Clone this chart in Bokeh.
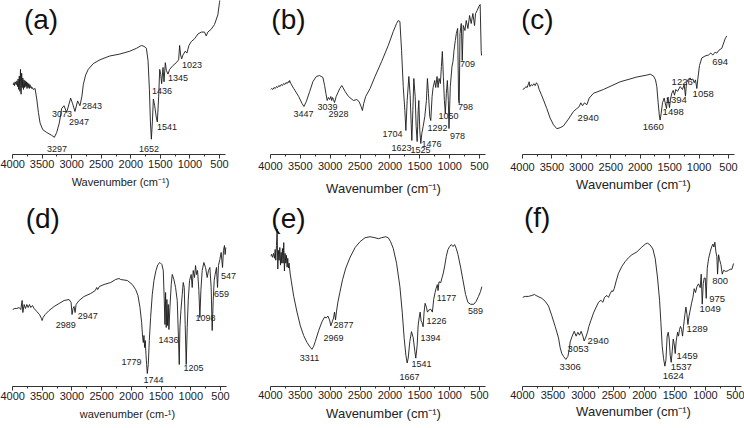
from bokeh.plotting import figure
from bokeh.layouts import row, column
from bokeh.models import Range1d, FixedTicker, Label
from bokeh.embed import file_html
from bokeh.resources import INLINE

FONT = "Liberation Sans"

# ---------------- data (wavenumber cm-1, transmittance a.u.) ----------------
wn_a = [4000, 3985, 3975, 3965, 3955, 3945, 3935, 3925, 3915, 3905,
        3895, 3885, 3875, 3865, 3855, 3845, 3835, 3825, 3815, 3805,
        3795, 3785, 3775, 3765, 3755, 3745, 3735, 3725, 3715, 3705,
        3695, 3685, 3675, 3665, 3650, 3618, 3590, 3562, 3534, 3489,
        3421, 3337, 3292, 3253, 3208, 3169, 3129, 3084, 3017, 2983,
        2944, 2899, 2860, 2826, 2803, 2764, 2719, 2635, 2522, 2354,
        2185, 2017, 1904, 1820, 1775, 1736, 1708, 1685, 1668, 1652,
        1635, 1618, 1596, 1567, 1551, 1528, 1511, 1494, 1478, 1455,
        1438, 1416, 1399, 1371, 1343, 1287, 1230, 1191, 1174, 1157,
        1140, 1118, 1079, 1051, 1017, 978, 921, 865, 809, 753,
        725, 697, 640, 584, 528, 500, 472]
t_a = [74, 73, 75, 72, 76, 74, 73, 77, 71, 79,
       68, 82, 66, 89, 63, 85, 70, 80, 68, 78,
       70, 77, 71, 76, 69, 75, 70, 74, 69, 73,
       70, 71, 69, 70, 68, 69, 58, 44, 33, 26,
       23, 20, 18, 23, 33, 48, 51, 44, 59, 53,
       45, 56, 51, 61, 73, 83, 89, 95, 99, 103,
       105, 108, 111, 114, 113, 111, 98, 68, 34, 16,
       34, 58, 51, 38, 34, 61, 89, 84, 74, 91,
       76, 96, 88, 84, 89, 93, 96, 99, 114, 104,
       100, 104, 108, 106, 114, 118, 121, 126, 128, 128,
       124, 128, 131, 136, 146, 159, 171]

wn_b = [4000, 3980, 3960, 3940, 3920, 3900, 3880, 3860, 3840, 3820,
        3800, 3780, 3760, 3740, 3720, 3700, 3690, 3680, 3660, 3611,
        3528, 3472, 3440, 3400, 3344, 3289, 3233, 3178, 3122, 3094,
        3072, 3050, 3030, 3010, 2990, 2975, 2960, 2945, 2928, 2900,
        2870, 2840, 2806, 2750, 2694, 2611, 2556, 2517, 2483, 2461,
        2439, 2406, 2333, 2250, 2139, 2028, 1944, 1889, 1861, 1833,
        1805, 1777, 1750, 1733, 1711, 1683, 1661, 1644, 1633, 1616,
        1600, 1577, 1561, 1544, 1527, 1516, 1500, 1483, 1466, 1444,
        1416, 1389, 1372, 1355, 1333, 1316, 1294, 1277, 1250, 1233,
        1211, 1194, 1177, 1155, 1138, 1122, 1105, 1088, 1072, 1055,
        1038, 1022, 1011, 989, 961, 944, 927, 905, 888, 866,
        850, 839, 827, 805, 789, 772, 744, 722, 694, 666,
        639, 611, 583, 566, 539, 511, 489, 472, 466]
t_b = [65, 66, 65, 67, 66, 68, 67, 69, 68, 70,
       69, 71, 70, 72, 71, 73, 72, 74, 71, 66,
       58, 51, 48, 53, 63, 73, 78, 79, 77, 69,
       61, 54, 57, 55, 58, 54, 57, 55, 52, 58,
       62, 66, 69, 63, 58, 54, 55, 53, 48, 44,
       51, 58, 66, 78, 93, 109, 123, 131, 134, 133,
       104, 68, 44, 24, 54, 78, 59, 31, 14, 44,
       76, 58, 28, 13, 44, 54, 24, 11, 21, 28,
       38, 54, 76, 61, 38, 34, 58, 67, 74, 67,
       78, 67, 76, 71, 88, 103, 78, 54, 41, 61,
       74, 54, 26, 68, 88, 93, 104, 114, 121, 126,
       54, 51, 121, 131, 94, 129, 124, 134, 126, 139,
       131, 141, 129, 141, 144, 148, 150, 104, 99]

wn_c = [4000, 3966, 3943, 3921, 3898, 3887, 3875, 3853, 3830, 3807,
        3785, 3762, 3740, 3717, 3683, 3643, 3587, 3530, 3473, 3417,
        3360, 3303, 3219, 3134, 3077, 3037, 3009, 2981, 2947, 2907,
        2867, 2794, 2624, 2341, 2057, 1888, 1831, 1774, 1740, 1718,
        1695, 1672, 1661, 1644, 1621, 1593, 1576, 1553, 1536, 1519,
        1502, 1485, 1463, 1440, 1417, 1395, 1367, 1321, 1282, 1253,
        1231, 1214, 1180, 1151, 1129, 1106, 1083, 1061, 1038, 1021,
        993, 953, 897, 840, 800, 766, 727, 698, 664, 614,
        557, 529]
t_c = [68, 69, 71, 70, 74, 76, 71, 73, 72, 74,
       72, 75, 73, 68, 63, 57, 48, 38, 31, 27,
       28, 30, 37, 45, 48, 50, 54, 51, 54, 52,
       59, 64, 68, 76, 81, 83, 84, 82, 78, 71,
       54, 39, 36, 43, 54, 59, 54, 48, 59, 55,
       49, 58, 64, 67, 62, 68, 66, 71, 68, 73,
       61, 75, 79, 80, 78, 79, 75, 78, 69, 79,
       93, 101, 103, 104, 106, 104, 107, 106, 109, 111,
       121, 124]

wn_d = [4000, 3960, 3927, 3888, 3860, 3838, 3826, 3804, 3782, 3759,
        3737, 3714, 3692, 3664, 3636, 3591, 3546, 3513, 3502, 3485,
        3451, 3384, 3300, 3216, 3132, 3048, 3014, 2998, 2981, 2964,
        2947, 2930, 2880, 2796, 2684, 2606, 2583, 2566, 2538, 2460,
        2348, 2264, 2208, 2180, 2068, 1984, 1928, 1889, 1855, 1827,
        1810, 1799, 1788, 1777, 1766, 1754, 1743, 1732, 1715, 1698,
        1676, 1648, 1620, 1586, 1553, 1519, 1486, 1463, 1446, 1435,
        1424, 1413, 1402, 1390, 1379, 1368, 1351, 1329, 1312, 1284,
        1256, 1228, 1206, 1194, 1183, 1166, 1144, 1127, 1110, 1094,
        1077, 1060, 1043, 1021, 993, 976, 959, 937, 920, 903,
        886, 864, 847, 830, 808, 780, 752, 724, 702, 679,
        657, 640, 623, 606, 590, 568, 550, 534, 511, 489,
        466, 450, 433, 422, 411]
t_d = [77, 78, 78, 79, 77, 86, 74, 82, 78, 82,
       79, 82, 79, 81, 78, 75, 72, 68, 66, 69,
       72, 76, 80, 83, 86, 87, 84, 72, 78, 80,
       74, 82, 86, 90, 93, 96, 99, 97, 100, 102,
       104, 107, 108, 107, 106, 102, 97, 91, 79, 64,
       49, 44, 51, 39, 46, 32, 22, 13, 22, 46,
       69, 92, 106, 116, 122, 124, 122, 116, 86, 62,
       94, 59, 87, 61, 82, 57, 79, 102, 112, 107,
       99, 86, 46, 22, 59, 76, 92, 104, 99, 62,
       22, 59, 86, 106, 112, 99, 116, 109, 121, 112,
       116, 96, 69, 96, 116, 124, 119, 109, 116, 119,
       99, 56, 86, 106, 112, 119, 99, 121, 127, 134,
       119, 136, 141, 132, 139]

wn_e = [4000, 3983, 3967, 3950, 3933, 3922, 3911, 3900, 3889, 3878,
        3867, 3856, 3844, 3833, 3822, 3811, 3800, 3789, 3778, 3767,
        3756, 3744, 3733, 3722, 3711, 3700, 3689, 3672, 3650, 3611,
        3556, 3500, 3444, 3389, 3333, 3306, 3278, 3250, 3194, 3139,
        3094, 3067, 3039, 3011, 2989, 2967, 2944, 2928, 2911, 2894,
        2872, 2839, 2794, 2739, 2667, 2583, 2500, 2417, 2333, 2250,
        2194, 2139, 2072, 2028, 1989, 1944, 1889, 1833, 1794, 1761,
        1733, 1711, 1694, 1667, 1639, 1611, 1583, 1567, 1544, 1528,
        1511, 1494, 1478, 1461, 1444, 1428, 1411, 1389, 1372, 1350,
        1317, 1289, 1267, 1244, 1228, 1206, 1194, 1178, 1150, 1128,
        1106, 1083, 1056, 1028, 1000, 972, 944, 917, 889, 861,
        817, 778, 733, 694, 650, 594, 556, 517, 483, 461]
t_e = [133, 135, 132, 136, 131, 140, 129, 144, 161, 120,
       139, 129, 142, 124, 137, 126, 141, 126, 147, 118,
       136, 126, 134, 122, 131, 121, 126, 116, 107, 92,
       76, 62, 52, 45, 40, 38, 41, 46, 57, 66,
       71, 70, 72, 68, 62, 66, 70, 76, 68, 77,
       86, 96, 109, 121, 132, 142, 148, 152, 153, 152,
       151, 152, 153, 152, 148, 141, 126, 102, 76, 49,
       32, 24, 29, 46, 56, 50, 36, 29, 42, 62,
       70, 76, 67, 65, 61, 76, 85, 81, 76, 78,
       79, 76, 89, 96, 100, 104, 98, 107, 106, 111,
       116, 123, 133, 140, 143, 145, 143, 145, 141, 135,
       122, 109, 94, 86, 84, 84, 87, 92, 97, 102]

wn_f = [4000, 3956, 3902, 3847, 3803, 3781, 3748, 3683, 3628, 3573,
        3519, 3464, 3409, 3382, 3355, 3327, 3289, 3256, 3234, 3218,
        3191, 3152, 3120, 3092, 3065, 3038, 3010, 2988, 2961, 2934,
        2912, 2879, 2835, 2791, 2753, 2715, 2682, 2655, 2616, 2589,
        2562, 2534, 2518, 2496, 2463, 2425, 2370, 2316, 2261, 2206,
        2124, 2042, 1987, 1949, 1906, 1862, 1823, 1785, 1752, 1730,
        1709, 1687, 1665, 1648, 1627, 1610, 1594, 1577, 1561, 1545,
        1528, 1512, 1495, 1479, 1457, 1441, 1424, 1408, 1391, 1375,
        1359, 1337, 1320, 1304, 1287, 1271, 1249, 1227, 1205, 1184,
        1162, 1140, 1113, 1085, 1069, 1052, 1036, 1020, 1003, 987,
        970, 948, 921, 899, 877, 861, 845, 828, 812, 801,
        784, 768, 746, 724, 702, 675, 648, 620, 593, 566,
        538]
t_f = [92, 93, 93, 94, 95, 94, 93, 91, 88, 83,
       73, 62, 50, 40, 34, 31, 28, 31, 38, 46,
       51, 57, 52, 56, 53, 57, 52, 47, 51, 56,
       62, 68, 76, 82, 87, 89, 87, 92, 94, 92,
       96, 99, 98, 101, 109, 117, 124, 129, 133, 136,
       139, 144, 147, 148, 146, 142, 132, 112, 89, 66,
       42, 29, 21, 27, 52, 56, 49, 32, 25, 36,
       49, 44, 34, 47, 56, 52, 59, 62, 59, 52,
       62, 74, 82, 75, 64, 72, 79, 86, 92, 101,
       97, 103, 106, 102, 116, 85, 106, 112, 112, 91,
       122, 132, 139, 144, 147, 144, 149, 139, 134, 116,
       136, 131, 126, 116, 120, 119, 119, 120, 121, 121,
       127]

# peak annotations (text)
peaks_a = ["3297", "3073", "2947", "2843", "1652", "1541", "1436", "1345", "1023"]
peaks_b = ["3447", "3039", "2928", "1704", "1623", "1525", "1476", "1292", "1050", "978", "798", "709"]
peaks_c = ["2940", "1660", "1498", "1394", "1226", "1058", "694"]
peaks_d = ["2989", "2947", "1779", "1744", "1436", "1205", "1098", "659", "547"]
peaks_e = ["3311", "2969", "2877", "1667", "1541", "1394", "1226", "1177", "589"]
peaks_f = ["3306", "3053", "2940", "1624", "1537", "1459", "1289", "1049", "975", "800"]

major_ticks = [4000, 3500, 3000, 2500, 2000, 1500, 1000, 500]
minor_ticks = [3750, 3250, 2750, 2250, 1750, 1250, 750]

XL = "Wavenumber (cm\u207b\u00b9)"
XL_D = "wavenumber (cm-\u00b9)"

# ---------------- layout (placement in data units) ----------------
lab_pos = {
    "a": ([3248, 3163, 2876, 2656, 1692, 1388, 1472, 1202, 965],
          [6, 42, 34, 51, 6, 29, 66, 80, 94]),
    "b": ([3447, 3045, 2861, 1957, 1806, 1488, 1304, 1203, 1019, 869, 735, 701],
          [41, 48, 41, 21, 7, 5, 11, 27, 39, 19, 48, 91]),
    "c": ([2884, 1779, 1440, 1389, 1287, 930, 641],
          [38, 29, 44, 57, 76, 63, 97]),
    "d": ([3105, 2735, 1996, 1626, 1374, 954, 753, 484, 366],
          [62, 71, 25, 7, 47, 19, 69, 93, 111]),
    "e": ([3347, 2945, 2777, 1672, 1471, 1320, 1220, 1052, 566],
          [29, 50, 63, 10, 23, 50, 67, 90, 77]),
    "f": ([3218, 3087, 2759, 1528, 1397, 1299, 1135, 922, 807, 758],
          [20, 39, 47, 11, 20, 32, 59, 80, 90, 109]),
}
letter_pos = {"a": (3518, 141.5), "b": (3699, 135), "c": (3750, 141.5),
              "d": (3491, 168), "e": (3699, 172), "f": (3759, 174)}


def panel(key, wn, t, peaks, xlabel, height, left, right, span500, bottom,
          lab_standoff, title_standoff, title_size, peak_size):
    frame_h = height - bottom
    frame_w = 248 - left - right
    x_end = 4000 - frame_w * 3500.0 / span500
    p = figure(width=248, height=height, x_range=Range1d(4000, x_end),
               y_range=Range1d(0, frame_h),
               output_backend="svg", toolbar_location=None, y_axis_location=None,
               min_border_left=left, min_border_right=right, min_border_top=0,
               min_border_bottom=bottom)
    p.outline_line_color = None
    p.xgrid.visible = False
    p.ygrid.visible = False
    p.background_fill_color = "white"
    p.border_fill_color = "white"
    p.line(wn, t, line_color="#1a1a1a", line_width=0.9)

    ax = p.xaxis[0]
    ax.bounds = (400, 4000)
    ax.ticker = FixedTicker(ticks=major_ticks, minor_ticks=minor_ticks)
    ax.major_tick_out = 4
    ax.major_tick_in = 0
    ax.minor_tick_out = 2
    ax.minor_tick_in = 0
    ax.axis_line_color = "#333333"
    ax.major_tick_line_color = "#333333"
    ax.minor_tick_line_color = "#333333"
    ax.major_label_text_font = FONT
    ax.major_label_text_font_size = "11px"
    ax.major_label_text_color = "#222222"
    ax.major_label_standoff = lab_standoff
    ax.axis_label = xlabel
    ax.axis_label_text_font = FONT
    ax.axis_label_text_font_size = title_size
    ax.axis_label_text_font_style = "normal"
    ax.axis_label_text_color = "#222222"
    ax.axis_label_standoff = title_standoff

    lx, ly = lab_pos[key]
    for s, x, y in zip(peaks, lx, ly):
        p.add_layout(Label(x=x, y=y, text=s, text_font=FONT,
                           text_font_size=peak_size, text_color="#222222",
                           text_align="center", text_baseline="middle"))
    cx, cy = letter_pos[key]
    p.add_layout(Label(x=cx, y=cy, text="(" + key + ")", text_font=FONT,
                       text_font_size="28px", text_color="#111111",
                       text_align="center", text_baseline="middle"))
    return p


pa = panel("a", wn_a, t_a, peaks_a, XL, 201, 12, 20, 207.0, 40, 1, 5, "11px", "9px")
pb = panel("b", wn_b, t_b, peaks_b, XL, 201, 22, 0, 209.0, 47, 3, 8, "13px", "9px")
pc = panel("c", wn_c, t_c, peaks_c, XL, 201, 26, 0, 206.0, 40, 4, 3, "13px", "9.5px")
pd = panel("d", wn_d, t_d, peaks_d, XL_D, 227, 12, 6, 208.0, 42, 1, 5, "11px", "9px")
pe = panel("e", wn_e, t_e, peaks_e, XL, 227, 22, 0, 209.0, 38, 0, 4, "13px", "9px")
pf = panel("f", wn_f, t_f, peaks_f, XL, 227, 26, 0, 213.4, 36, 0, 2, "13px", "9.5px")

layout = column(row(pa, pb, pc), row(pd, pe, pf))
open("out.html", "w").write(file_html(layout, INLINE))
